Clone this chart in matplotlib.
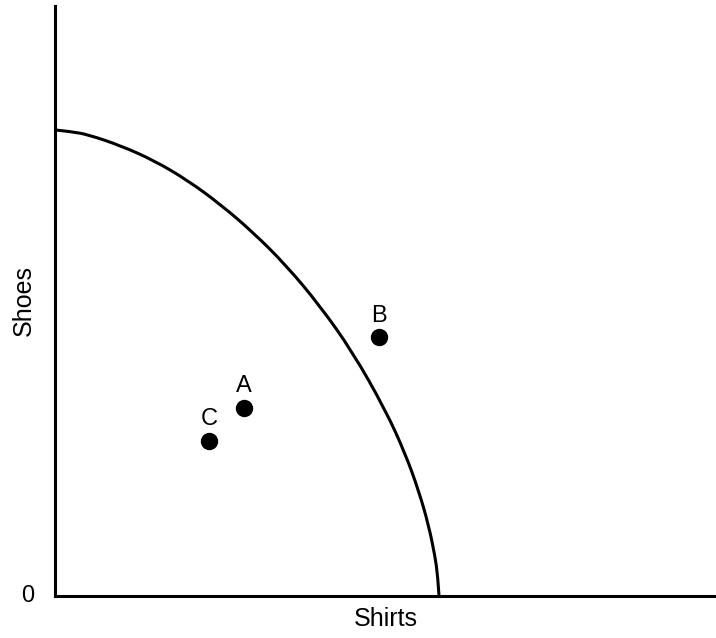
import matplotlib.pyplot as plt
from matplotlib.path import Path
from matplotlib.patches import PathPatch

plt.rcParams['font.family'] = ['Liberation Sans', 'DejaVu Sans']

frontier_shirts = [0.0, 0.25, 0.5, 1.0, 1.5, 2.0, 2.5, 3.0, 3.5, 4.0,
                   4.5, 5.0, 5.3, 5.5, 5.65, 5.75, 5.79, 5.81]
frontier_shoes = [7.90, 7.87, 7.82, 7.63, 7.38, 7.05, 6.64, 6.16, 5.60, 4.93,
                  4.14, 3.15, 2.41, 1.79, 1.21, 0.67, 0.34, 0.0]

point_labels = ['A', 'B', 'C']
point_shirts = [2.86, 4.90, 2.33]
point_shoes = [3.19, 4.39, 2.63]


def smooth_path(xs, ys):
    # quadratic segments between midpoints, read points act as controls
    pts = list(zip(xs, ys))
    verts = [pts[0]]
    codes = [Path.MOVETO]
    for i in range(1, len(pts) - 1):
        mid = ((pts[i][0] + pts[i + 1][0]) / 2, (pts[i][1] + pts[i + 1][1]) / 2)
        if i == len(pts) - 2:
            mid = pts[-1]
        verts += [pts[i], mid]
        codes += [Path.CURVE3, Path.CURVE3]
    return Path(verts, codes)


fig = plt.figure(figsize=(7.16, 6.38), dpi=100)
ax = fig.add_axes([55 / 716, 42 / 638, 661 / 716, 590 / 638])

ax.add_patch(PathPatch(smooth_path(frontier_shirts, frontier_shoes),
                       facecolor='none', edgecolor='black', lw=2.2))
ax.plot(point_shirts, point_shoes, 'o', color='black', markersize=11.5)
for label, x, y in zip(point_labels, point_shirts, point_shoes):
    ax.annotate(label, (x, y), xytext=(0, 7.5), textcoords='offset points',
                ha='center', va='bottom', fontsize=17)

ax.set_xlim(0, 10)
ax.set_ylim(0, 10)
for side in ['top', 'right']:
    ax.spines[side].set_visible(False)
for side in ['left', 'bottom']:
    ax.spines[side].set_linewidth(2.2)
ax.set_xticks([])
ax.set_yticks([])

ax.text(-0.42, 0, '0', ha='center', va='center', fontsize=17)
ax.set_xlabel('Shirts', fontsize=18, labelpad=8)
ax.set_ylabel('Shoes', fontsize=18, labelpad=14)

fig.savefig('out.png', dpi=100)
